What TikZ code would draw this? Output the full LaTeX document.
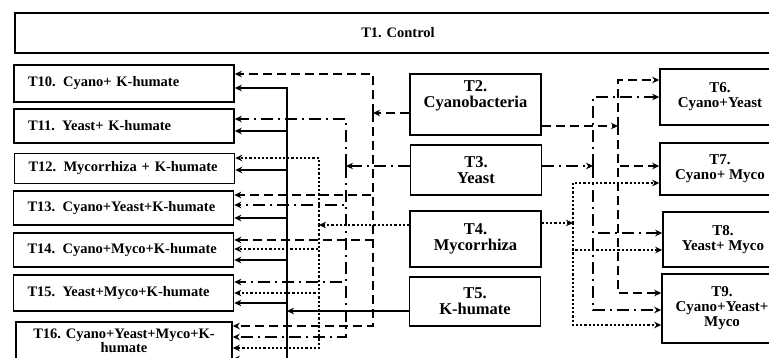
\documentclass[tikz,border=0pt]{standalone}
\usepackage{fontspec}
\setmainfont{Liberation Serif}
\usetikzlibrary{arrows.meta}

\begin{document}
\begin{tikzpicture}[x=1pt, y=-1pt,
  box/.style={draw, line width=1.6pt, inner sep=0pt, align=center, font=\bfseries\fontsize{14.5}{14}\selectfont},
  lbox/.style={box, minimum width=220pt, text width=198pt, align=left, inner xsep=11pt},
  mbox/.style={box, minimum width=131pt, font=\bfseries\fontsize{16.5}{16}\selectfont},
  rbox/.style={box, minimum width=120pt, font=\bfseries\fontsize{15}{15}\selectfont},
  link/.style={line width=1.8pt, -{Stealth[length=7pt, width=6.5pt]}},
  cyano/.style={link, dash pattern=on 9pt off 5pt},
  yeast/.style={link, dash pattern=on 12pt off 5pt on 2pt off 5pt},
  myco/.style={link, line width=2.6pt, dash pattern=on 2.2pt off 2pt},
  khum/.style={link}]

  \useasboundingbox (0,0) rectangle (769,357);

  \node[box, minimum width=766pt, minimum height=40pt, font=\bfseries\fontsize{14.5}{14}\selectfont] (T1) at (398,33) {T1. Control};

  \node[lbox, minimum height=37pt] (T10) at (124,83.5) {\hspace{3pt}T10.\enspace Cyano+ K-humate};
  \node[lbox, minimum height=34pt] (T11) at (124,126) {\hspace{3pt}T11.\enspace Yeast+ K-humate};
  \node[lbox, minimum height=30pt] (T12) at (124.5,168.5) {\hspace{3pt}T12.\enspace Mycorrhiza + K-humate};
  \node[lbox, minimum height=34pt] (T13) at (123.5,208) {\hspace{3pt}T13. Cyano+Yeast+K-humate};
  \node[lbox, minimum height=34pt] (T14) at (123.5,250) {\hspace{3pt}T14. Cyano+Myco+K-humate};
  \node[lbox, minimum height=36pt] (T15) at (123.5,293) {\hspace{3pt}T15. Yeast+Myco+K-humate};
  \node[box, minimum width=216pt, minimum height=38pt] (T16) at (124,341) {T16. Cyano+Yeast+Myco+K-\\humate};

  \node[mbox, minimum height=61pt] (T2) at (475.5,104.5) {T2.\\Cyanobacteria\\[5pt]};
  \node[mbox, minimum height=50pt] (T3) at (476,170) {T3.\\Yeast};
  \node[mbox, minimum height=56pt] (T4) at (475.5,239) {T4.\\Mycorrhiza};
  \node[mbox, minimum height=49pt] (T5) at (475,301.5) {T5.\\K-humate};

  \node[rbox, minimum height=56pt] (T6) at (720,97) {T6.\\Cyano+Yeast};
  \node[rbox, minimum height=52pt] (T7) at (720,169) {T7.\\Cyano+ Myco};
  \node[rbox, minimum height=55pt] (T8) at (723,239.5) {T8.\\Yeast+ Myco};
  \node[rbox, minimum height=69pt] (T9) at (722,308.5) {T9.\\Cyano+Yeast+\\Myco};

  \coordinate (cyL) at (373,113);
  \coordinate (cyR) at (618,126);
  \coordinate (yL) at (346,166);
  \coordinate (yR) at (593,166);
  \coordinate (mL) at (319,225);
  \coordinate (mR) at (573,223);
  \coordinate (kL) at (287,311);

  \draw[cyano] (T2.west |- cyL) -- (cyL);
  \draw[cyano] (cyL) |- ([yshift=9.5pt]T10.east);
  \draw[cyano] (cyL) |- ([yshift=13pt]T13.east);
  \draw[cyano] (cyL) |- ([yshift=10pt]T14.east);
  \draw[cyano] (cyL) |- ([yshift=15pt]T16.east);
  \draw[cyano] (T2.east |- cyR) -- (cyR);
  \draw[cyano] (cyR) |- ([yshift=17pt]T6.west);
  \draw[cyano] (cyR) |- ([yshift=3pt]T7.west);
  \draw[cyano] (cyR) |- ([yshift=15.5pt]T9.west);

  \draw[yeast] (T3.west |- yL) -- (yL);
  \draw[yeast] (yL) |- ([yshift=7pt]T11.east);
  \draw[yeast] (yL) |- ([yshift=3pt]T13.east);
  \draw[yeast] (yL) |- ([yshift=11pt]T15.east);
  \draw[yeast] (yL) |- ([yshift=4pt]T16.east);
  \draw[yeast] (T3.east |- yR) -- (yR);
  \draw[yeast] (yR) |- (T6.west);
  \draw[yeast] (yR) |- ([yshift=6.5pt]T8.west);
  \draw[yeast] (yR) |- ([yshift=-1.5pt]T9.west);

  \draw[myco] (T4.west |- mL) -- (mL);
  \draw[myco] (mL) |- ([yshift=10.5pt]T12.east);
  \draw[myco] (mL) |- ([yshift=1pt]T14.east);
  \draw[myco] (mL) |- (T15.east);
  \draw[myco] (mL) |- ([yshift=-7pt]T16.east);
  \draw[myco] (T4.east |- mR) -- (mR);
  \draw[myco] (mR) |- ([yshift=-14pt]T7.west);
  \draw[myco] (mR) |- ([yshift=-10.5pt]T8.west);
  \draw[myco] (mR) |- ([yshift=-16.5pt]T9.west);

  \draw[khum] (T5.west |- kL) -- (kL);
  \draw[khum] (kL) |- ([yshift=-4.5pt]T10.east);
  \draw[khum] (kL) |- ([yshift=-5pt]T11.east);
  \draw[khum] (kL) |- ([yshift=-1.5pt]T12.east);
  \draw[khum] (kL) |- ([yshift=-10pt]T13.east);
  \draw[khum] (kL) |- ([yshift=-10pt]T14.east);
  \draw[khum] (kL) |- ([yshift=-10pt]T15.east);
  \draw[khum] (kL) |- ([yshift=-18pt]T16.east);
\end{tikzpicture}
\end{document}
